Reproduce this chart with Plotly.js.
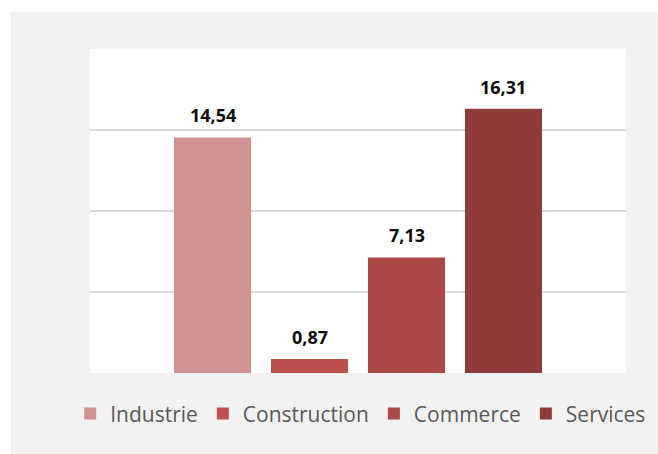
<!DOCTYPE html>
<html>
<head>
<meta charset="utf-8">
<script src="https://cdn.plot.ly/plotly-3.0.1.min.js"></script>
<style>html,body{margin:0;padding:0;background:#fff;}#chart{width:658px;height:454px;}</style>
</head>
<body>
<div id="chart"></div>
<script>
var categories = ["Industrie", "Construction", "Commerce", "Services"];
var values = [14.54, 0.87, 7.13, 16.31];
var colors = ["#d39292", "#c0504d", "#ab4747", "#8e3a38"];
var gridValues = [5, 10, 15];

function fmt(v) { return v.toFixed(2).replace(".", ","); }

var traces = categories.map(function (c, i) {
  return {
    type: "bar",
    name: c,
    x: [c],
    y: [values[i]],
    width: 0.794,
    marker: { color: colors[i] },
    hoverinfo: "name+y"
  };
});

var annotations = categories.map(function (c, i) {
  return {
    x: c, y: values[i], xref: "x", yref: "y",
    text: fmt(values[i]),
    showarrow: false,
    yanchor: "middle",
    yshift: 22,
    font: { family: "Open Sans", size: 18, color: "#0d0d0d", weight: "bold" }
  };
});

var layout = {
  width: 658, height: 454,
  margin: { l: 90, r: 32, t: 49, b: 81, pad: 0 },
  paper_bgcolor: "#ffffff",
  plot_bgcolor: "rgba(0,0,0,0)",
  barmode: "overlay",
  showlegend: true,
  shapes: [
    { type: "rect", xref: "paper", yref: "paper", x0: -0.1474, x1: 1.2, y0: -0.4, y1: 1.1142,
      fillcolor: "#f2f2f2", line: { width: 0 }, layer: "below" },
    { type: "rect", xref: "paper", yref: "paper", x0: 0, x1: 1, y0: 0, y1: 1,
      fillcolor: "#ffffff", line: { width: 0 }, layer: "below" }
  ],
  xaxis: {
    type: "category",
    categoryorder: "array", categoryarray: categories,
    range: [-1.263, 4.263],
    showticklabels: false, showgrid: false, zeroline: false, showline: false, ticks: ""
  },
  yaxis: {
    range: [0, 20],
    tickvals: gridValues,
    showticklabels: false,
    showgrid: true, gridcolor: "#d9d9d9", gridwidth: 1.5,
    zeroline: false, showline: false, ticks: ""
  },
  legend: {
    orientation: "h",
    x: -0.037, xanchor: "left",
    y: -0.063, yanchor: "top",
    bgcolor: "rgba(0,0,0,0)",
    font: { family: "Open Sans", size: 21, color: "#595959" },
    traceorder: "normal"
  },
  annotations: annotations
};

Plotly.newPlot("chart", traces, layout, { displayModeBar: false, staticPlot: true });
</script>
</body>
</html>
